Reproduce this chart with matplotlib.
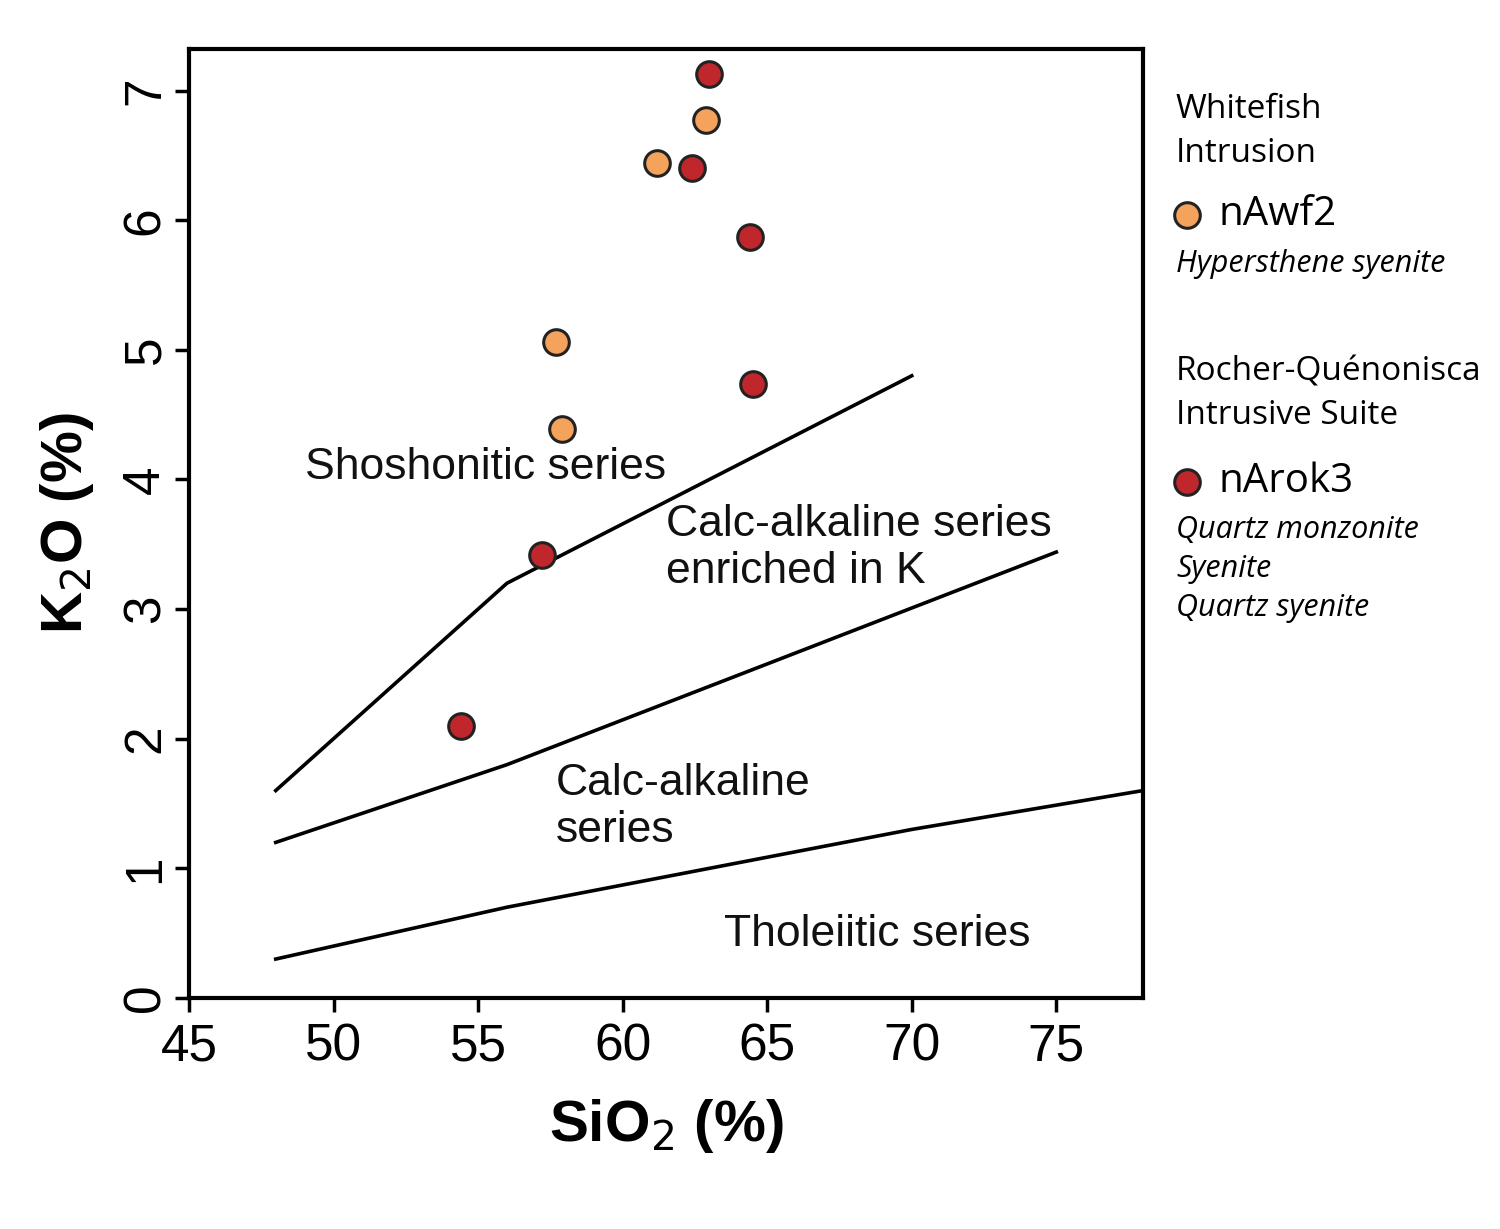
import matplotlib
matplotlib.use("Agg")
import matplotlib.pyplot as plt

plt.rcParams['font.family'] = ['Liberation Sans', 'DejaVu Sans']

# sample data
wf_sio2 = [62.9, 61.2, 57.7, 57.9]
wf_k2o = [6.77, 6.44, 5.06, 4.39]
rq_sio2 = [63.0, 62.4, 64.4, 64.5, 57.2, 54.4]
rq_k2o = [7.13, 6.40, 5.87, 4.74, 3.42, 2.10]

# series boundaries
sho_x = [48, 56, 70]
sho_y = [1.6, 3.2, 4.8]
hk_x = [48, 56, 75]
hk_y = [1.2, 1.8, 3.44]
th_x = [48, 52, 56, 63, 70, 78]
th_y = [0.3, 0.5, 0.7, 1.0, 1.3, 1.6]

fig = plt.figure(figsize=(15, 12.29), dpi=100)
ax = fig.add_axes([0.126, 0.188, 0.636, 0.772])

for xs, ys in [(sho_x, sho_y), (hk_x, hk_y), (th_x, th_y)]:
    ax.plot(xs, ys, color='black', lw=2.6)

ax.scatter(wf_sio2, wf_k2o, s=340, color='#f5a25d', edgecolor='#222222', lw=2.2, zorder=3)
ax.scatter(rq_sio2, rq_k2o, s=340, color='#c0272d', edgecolor='#222222', lw=2.2, zorder=3)

lab = dict(fontsize=32, color='#111111')
ax.text(49.0, 4.0, 'Shoshonitic series', **lab)
ax.text(61.5, 3.2, 'Calc-alkaline series\nenriched in K', linespacing=1.2, **lab)
ax.text(57.7, 1.2, 'Calc-alkaline\nseries', linespacing=1.2, **lab)
ax.text(63.5, 0.4, 'Tholeiitic series', **lab)

ax.set_xlim(45, 78)
ax.set_ylim(0, 7.32)
ax.set_xticks([45, 50, 55, 60, 65, 70, 75])
ax.set_yticks(range(8))
ax.tick_params(axis='x', labelsize=37, length=10, width=2.5, pad=8)
ax.tick_params(axis='y', labelsize=37, length=10, width=2.5, labelrotation=90)
for lbl in ax.get_yticklabels():
    lbl.set_va('center')
for sp in ax.spines.values():
    sp.set_linewidth(3)
ax.set_xlabel('SiO$_2$ (%)', fontsize=42, fontweight='bold', labelpad=18)
ax.set_ylabel('K$_2$O (%)', fontsize=42, fontweight='bold', labelpad=18)

# legend text
lf = ['Open Sans', 'DejaVu Sans']
fx = 0.784
def t(y, s, **kw):
    fig.text(fx, 1 - y / 1229, s, va='center', family=lf, **kw)
t(110, 'Whitefish', fontsize=24)
t(153, 'Intrusion', fontsize=24)
fig.text(0.812, 1 - 215 / 1229, 'nAwf2', va='center', family=lf, fontsize=29)
t(264, 'Hypersthene syenite', fontsize=22, style='italic')
t(372, 'Rocher-Quénonisca', fontsize=24)
t(415, 'Intrusive Suite', fontsize=24)
fig.text(0.812, 1 - 482 / 1229, 'nArok3', va='center', family=lf, fontsize=29)
t(530, 'Quartz monzonite', fontsize=22, style='italic')
t(569, 'Syenite', fontsize=22, style='italic')
t(608, 'Quartz syenite', fontsize=22, style='italic')
lax = fig.add_axes([0, 0, 1, 1], facecolor='none')
lax.set_xlim(0, 1500)
lax.set_ylim(1229, 0)
lax.axis('off')
lax.scatter([1187], [215], s=340, color='#f5a25d', edgecolor='#222222', lw=2.2)
lax.scatter([1187], [482], s=340, color='#c0272d', edgecolor='#222222', lw=2.2)

fig.savefig('out.png', dpi=100)
